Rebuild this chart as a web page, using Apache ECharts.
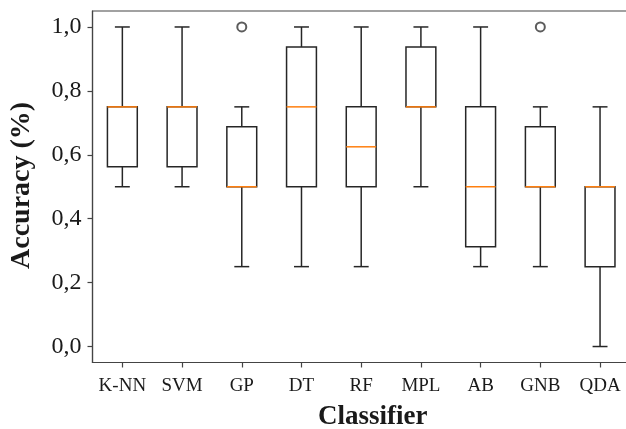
<!DOCTYPE html>
<html>
<head>
<meta charset="utf-8">
<script src="https://cdn.jsdelivr.net/npm/echarts@6/dist/echarts.min.js"></script>
<style>
html,body{margin:0;padding:0;background:#fff;}
#chart{width:626px;height:429px;}
</style>
</head>
<body>
<div id="chart"></div>
<script>
const categories = ['K-NN', 'SVM', 'GP', 'DT', 'RF', 'MPL', 'AB', 'GNB', 'QDA'];
const whiskerLow  = [0.5,    0.5,    0.25, 0.25,   0.25,  0.5,    0.25,   0.25,   0.0];
const q1          = [0.5625, 0.5625, 0.5,  0.5,    0.5,   0.75,   0.3125, 0.5,    0.25];
const medians     = [0.75,   0.75,   0.5,  0.75,   0.625, 0.75,   0.5,    0.5,    0.5];
const q3          = [0.75,   0.75,   0.6875, 0.9375, 0.75, 0.9375, 0.75,  0.6875, 0.5];
const whiskerHigh = [1.0,    1.0,    0.75, 1.0,    1.0,   1.0,    1.0,    0.75,   0.75];
const outliers    = [['GP', 1.0], ['GNB', 1.0]];
const yTicks      = [0.0, 0.2, 0.4, 0.6, 0.8, 1.0];

const boxData = categories.map((c, i) => [i, whiskerLow[i], q1[i], medians[i], q3[i], whiskerHigh[i]]);
const outlierData = outliers.map(o => [categories.indexOf(o[0]), o[1]]);

const SERIF = '"Liberation Serif", "Times New Roman", serif';
const BOX_COLOR = '#262626';
const MED_COLOR = '#ff7f0e';

const chart = echarts.init(document.getElementById('chart'), null, {renderer: 'canvas'});

function renderBox(params, api) {
  const x = api.value(0);
  const unit = api.size([1, 0])[0];
  const bw = unit * 0.5;
  const cw = unit * 0.25;
  const pLow = api.coord([x, api.value(1)]);
  const pQ1 = api.coord([x, api.value(2)]);
  const pMed = api.coord([x, api.value(3)]);
  const pQ3 = api.coord([x, api.value(4)]);
  const pHigh = api.coord([x, api.value(5)]);
  const cx = pQ1[0];
  const lineStyle = {stroke: BOX_COLOR, lineWidth: 1.5, fill: null};
  const children = [];
  children.push({type: 'line', shape: {x1: cx, y1: pQ1[1], x2: cx, y2: pLow[1]}, style: lineStyle});
  children.push({type: 'line', shape: {x1: cx, y1: pQ3[1], x2: cx, y2: pHigh[1]}, style: lineStyle});
  children.push({type: 'line', shape: {x1: cx - cw / 2, y1: pLow[1], x2: cx + cw / 2, y2: pLow[1]}, style: lineStyle});
  children.push({type: 'line', shape: {x1: cx - cw / 2, y1: pHigh[1], x2: cx + cw / 2, y2: pHigh[1]}, style: lineStyle});
  children.push({type: 'rect', shape: {x: cx - bw / 2, y: pQ3[1], width: bw, height: pQ1[1] - pQ3[1]},
    style: {stroke: BOX_COLOR, lineWidth: 1.5, fill: 'none'}});
  children.push({type: 'line', shape: {x1: cx - bw / 2, y1: pMed[1], x2: cx + bw / 2, y2: pMed[1]},
    style: {stroke: MED_COLOR, lineWidth: 1.5}, z2: 10});
  return {type: 'group', children: children};
}

const option = {
  animation: false,
  backgroundColor: '#ffffff',
  grid: {
    left: 92.5, top: 11, width: 537.4, height: 351.5,
    outerBoundsMode: 'none', containLabel: false,
    show: true, borderColor: '#444', borderWidth: 1.2, backgroundColor: 'transparent'
  },
  xAxis: {
    type: 'category',
    data: categories,
    boundaryGap: true,
    axisLine: {show: true, onZero: false, lineStyle: {color: '#444', width: 1.2}},
    axisTick: {show: true, alignWithLabel: true, length: 5, lineStyle: {color: '#444', width: 1.2}},
    axisLabel: {fontFamily: SERIF, fontSize: 19, color: '#1a1a1a', margin: 14, interval: 0},
    splitLine: {show: false}
  },
  yAxis: {
    type: 'value',
    min: -0.05, max: 1.05,
    axisLine: {show: true, lineStyle: {color: '#444', width: 1.2}},
    axisTick: {show: true, length: 5, customValues: yTicks, lineStyle: {color: '#444', width: 1.2}},
    axisLabel: {
      fontFamily: SERIF, fontSize: 24, color: '#1a1a1a', margin: 11,
      customValues: yTicks,
      formatter: v => v.toFixed(1).replace('.', ',')
    },
    splitLine: {show: false}
  },
  graphic: [
    {type: 'text', left: 318, top: 404,
     style: {text: 'Classifier', font: 'bold 27px ' + SERIF, fill: '#1a1a1a'}},
    {type: 'text', x: 8, y: 269, rotation: Math.PI / 2,
     style: {text: 'Accuracy (%)', font: 'bold 28px ' + SERIF, fill: '#1a1a1a', textVerticalAlign: 'top'}}
  ],
  series: [
    {type: 'custom', renderItem: renderBox, data: boxData, encode: {x: 0, y: [1, 2, 3, 4, 5]}, clip: false},
    {type: 'scatter', data: outlierData, symbol: 'circle', symbolSize: 9,
     itemStyle: {color: '#ffffff', borderColor: '#333', borderWidth: 2}, z: 5}
  ]
};
chart.setOption(option);
</script>
</body>
</html>
